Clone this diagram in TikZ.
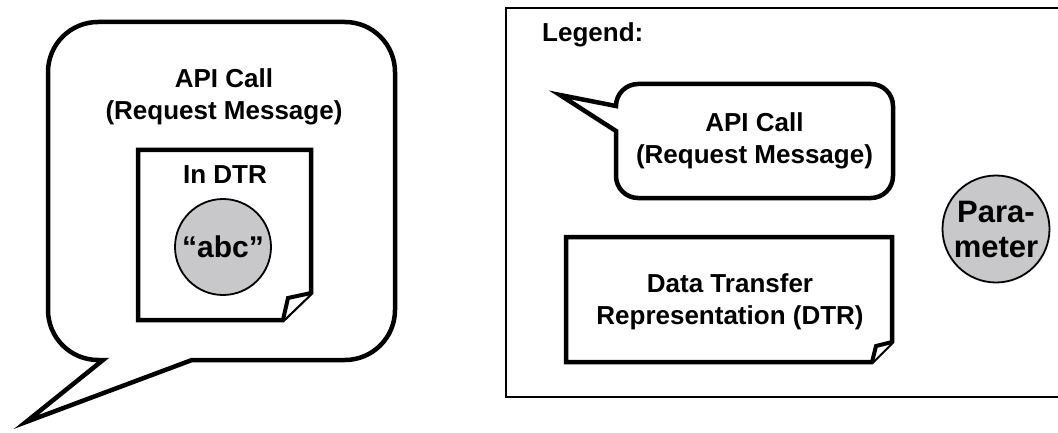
\documentclass[tikz,border=0pt]{standalone}
\usepackage{fontspec}
\setmainfont{Liberation Sans}
\definecolor{paramgray}{RGB}{200,200,202}
\begin{document}
\begin{tikzpicture}[x=1pt,y=-1pt,
  outline/.style={line width=4.5pt, line join=miter, fill=white},
  frame/.style={line width=2pt},
  lbl/.style={font=\bfseries\fontsize{26}{32}\selectfont, align=center, inner sep=0pt},
  paramnode/.style={circle, draw, line width=1.8pt, fill=paramgray, inner sep=0pt,
    font=\bfseries\fontsize{30}{35}\selectfont, align=center},
  fold/.style={line width=4pt, line join=miter, fill=white}]
\clip (0,0) rectangle (1058,433);

% ---- large speech bubble: an API call ----
\draw[outline] (26,422) -- (192,360) -- (345,360)
  .. controls (372.6,360) and (395,337.6) .. (395,310) -- (395,72)
  .. controls (395,44.4) and (372.6,22) .. (345,22) -- (98,22)
  .. controls (70.4,22) and (48,44.4) .. (48,72) -- (48,310)
  .. controls (48,337.6) and (70.4,360) .. (98,360) -- (103,360) -- cycle;
\node[lbl] (apicall) at (224,97) {API Call\\(Request Message)};

% data transfer representation sheet with a dog-eared corner
\draw[outline] (138,150) -- (311,150) -- (311,293) -- (283,320) -- (138,320) -- cycle;
\draw[fold] (283,320) -- (288,298) -- (311,293);
\node[lbl] (indtr) at (225,175) {In DTR};
\node[paramnode, minimum size=96pt] (abc) at (223,247) {“abc”};

% ---- legend ----
\draw[frame] (506,8) rectangle (1080,397);
\node[lbl, anchor=west] (legend) at (542,35) {Legend:};

% small speech bubble
\draw[outline] (560,95) -- (616,131) -- (616,176)
  .. controls (616,188.1) and (625.9,198) .. (638,198) -- (871,198)
  .. controls (883.1,198) and (893,188.1) .. (893,176) -- (893,106)
  .. controls (893,93.9) and (883.1,84) .. (871,84) -- (638,84)
  .. controls (625.9,84) and (616,93.9) .. (616,106) -- cycle;
\node[lbl] (legcall) at (754.5,141) {API Call\\(Request Message)};

% sheet
\draw[outline] (566,237) -- (892,237) -- (892,342) -- (872,362) -- (566,362) -- cycle;
\draw[fold] (872,362) -- (876,346) -- (892,342);
\node[lbl] (legdtr) at (730,302) {Data Transfer\\Representation (DTR)};

% parameter disc
\node[paramnode, minimum size=107pt, font=\bfseries\fontsize{31}{35}\selectfont]
  (param) at (996,229) {Para-\\meter};
\end{tikzpicture}
\end{document}
